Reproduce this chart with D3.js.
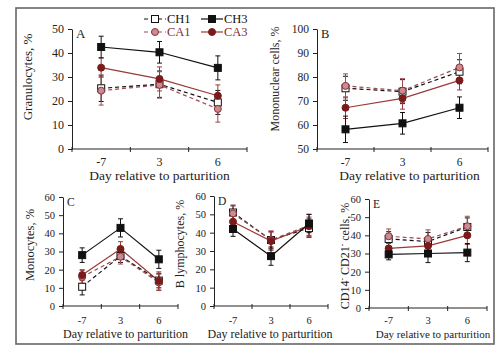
<!DOCTYPE html>
<html><head><meta charset="utf-8">
<script src="https://cdn.jsdelivr.net/npm/d3@7"></script>
<style>body{margin:0;background:#fff}svg{display:block}text{font-family:"Liberation Serif","Times New Roman",serif}</style>
</head><body>
<svg id="c" width="503" height="350"></svg>
<script>
const categories = ["-7","3","6"];
const seriesNames = ["CH1","CH3","CA1","CA3"];
const xTitle = "Day relative to parturition";

// Panel A: Granulocytes
const granMean = {CH1:[25.3,27.0,19.4], CH3:[42.5,40.3,33.8], CA1:[24.3,26.7,16.7], CA3:[33.9,29.2,22.2]};
const granSE   = {CH1:[5.5,5.5,5.0],   CH3:[4.5,4.5,5.0],   CA1:[6.0,5.5,5.5],   CA3:[4.0,5.0,4.5]};
// Panel B: Mononuclear cells
const monoMean = {CH1:[75.3,73.9,82.2], CH3:[58.2,60.7,67.2], CA1:[76.3,74.3,84.0], CA3:[67.2,71.1,78.6]};
const monoSE   = {CH1:[5.0,5.0,5.0],   CH3:[5.5,4.5,4.5],   CA1:[5.0,5.0,5.8],   CA3:[4.5,4.5,4.0]};
// Panel C: Monocytes
const mncyMean = {CH1:[10.6,27.5,14.0], CH3:[28.0,43.0,25.7], CA1:[16.0,27.1,13.0], CA3:[17.0,31.4,13.8]};
const mncySE   = {CH1:[4.5,3.5,4.0],   CH3:[4.0,5.0,5.0],   CA1:[3.5,4.0,4.5],   CA3:[3.0,4.0,5.0]};
// Panel D: B lymphocytes
const blymMean = {CH1:[51.0,36.0,42.5], CH3:[42.0,27.2,45.0], CA1:[50.5,36.0,44.0], CA3:[46.0,35.4,43.5]};
const blymSE   = {CH1:[4.0,4.5,5.0],   CH3:[4.0,5.0,5.0],   CA1:[4.0,5.0,6.0],   CA3:[4.0,5.0,5.0]};
// Panel E: CD14- CD21- cells
const cdMean = {CH1:[38.0,36.6,44.6], CH3:[29.5,30.0,30.5], CA1:[39.5,38.0,45.0], CA3:[32.8,34.2,40.0]};
const cdSE   = {CH1:[4.0,5.0,5.0],   CH3:[3.0,5.0,5.0],   CA1:[4.0,5.0,5.5],   CA3:[3.0,4.0,5.0]};

const yTicksTop = [0,10,20,30,40,50];
const yTicksB = [50,60,70,80,90,100];
const yTicksBottom = [0,10,20,30,40,50,60];

const FONT = "Liberation Serif";
const style = {
  CH1:{line:"#111", dash:"4,3", shape:"square", fill:"#fff", stroke:"#111", text:"#111"},
  CH3:{line:"#111", dash:null, shape:"square", fill:"#111", stroke:"#111", text:"#111"},
  CA1:{line:"#9a4a50", dash:"4,3", shape:"circle", fill:"#c98c92", stroke:"#8a3038", text:"#8b2630"},
  CA3:{line:"#9a3a38", dash:null, shape:"circle", fill:"#7a1a1a", stroke:"#7a1a1a", text:"#8b2630"}
};
const order = ["CH1","CA1","CA3","CH3"];

const svg = d3.select("#c");
svg.append("rect").attr("x",16).attr("y",8).attr("width",478).attr("height",336)
  .attr("fill","none").attr("stroke","#666").attr("stroke-width",1.6);

function panel(cfg){
  const g = svg.append("g");
  const x = d3.scaleBand().domain(categories).range(cfg.xr).paddingInner(0).paddingOuter(0);
  const y = d3.scaleLinear().domain(cfg.yd).range(cfg.yr);
  const ya = g.append("g").attr("transform",`translate(${cfg.xr[0]},0)`)
    .call(d3.axisLeft(y).tickValues(cfg.yt).tickSize(4).tickPadding(4).tickSizeOuter(0));
  ya.attr("font-family",FONT);
  ya.select(".domain").attr("stroke","#222");
  ya.selectAll(".tick line").attr("stroke","#222");
  ya.selectAll("text").attr("font-family",FONT).attr("font-size",cfg.fs).attr("fill","#222");
  // x axis with ticks at band boundaries
  const xa = g.append("g").attr("transform",`translate(0,${cfg.yr[0]})`);
  xa.append("line").attr("x1",cfg.xr[0]).attr("x2",cfg.xr[1]).attr("stroke","#222");
  const bounds = categories.map(c=>x(c)).concat([cfg.xr[1]]);
  xa.selectAll("line.t").data(bounds).join("line").attr("class","t")
    .attr("x1",d=>d).attr("x2",d=>d).attr("y1",-2).attr("y2",3).attr("stroke","#222");
  xa.selectAll("text.tl").data(categories).join("text").attr("class","tl")
    .attr("x",d=>x(d)+x.bandwidth()/2).attr("y",cfg.tly).attr("text-anchor","middle")
    .attr("font-family",FONT).attr("font-size",cfg.fs).attr("fill","#222").text(d=>d);
  g.append("text").attr("x",(cfg.xr[0]+cfg.xr[1])/2 + (cfg.tdx||0)).attr("y",cfg.tty)
    .attr("text-anchor","middle").attr("font-family",FONT).attr("font-size",cfg.tfs).attr("fill","#222").text(xTitle);
  const yt = g.append("text").attr("transform",`translate(${cfg.ylx},${cfg.yly}) rotate(-90)`)
    .attr("text-anchor","middle").attr("font-family",FONT).attr("font-size",cfg.ylfs).attr("fill","#222");
  if (cfg.ylParts){
    cfg.ylParts.forEach(p=>{
      const ts = yt.append("tspan").text(p.t);
      if(p.sup) ts.attr("baseline-shift","super").attr("font-size",cfg.ylfs*0.65);
    });
  } else yt.text(cfg.ylabel);
  g.append("text").attr("x",cfg.xr[0]+4).attr("y",cfg.yr[1]+9).attr("font-family",FONT)
    .attr("font-size",cfg.fs+1).attr("fill","#222").text(cfg.letter);

  const cx = c=>x(c)+x.bandwidth()/2;
  const cap = 2.5;
  order.forEach(s=>{
    const st = style[s];
    const m = cfg.mean[s], e = cfg.se[s];
    categories.forEach((c,i)=>{
      const eg = g.append("g").attr("stroke",st.line).attr("stroke-width",1);
      eg.append("line").attr("x1",cx(c)).attr("x2",cx(c)).attr("y1",y(m[i]-e[i])).attr("y2",y(m[i]+e[i]));
      eg.append("line").attr("x1",cx(c)-cap).attr("x2",cx(c)+cap).attr("y1",y(m[i]+e[i])).attr("y2",y(m[i]+e[i]));
      eg.append("line").attr("x1",cx(c)-cap).attr("x2",cx(c)+cap).attr("y1",y(m[i]-e[i])).attr("y2",y(m[i]-e[i]));
    });
    const line = d3.line().x((d,i)=>cx(categories[i])).y(d=>y(d));
    g.append("path").datum(m).attr("d",line).attr("fill","none").attr("stroke",st.line)
      .attr("stroke-width",1.2).attr("stroke-dasharray",st.dash);
  });
  order.forEach(s=>{
    const st = style[s];
    cfg.mean[s].forEach((v,i)=>{
      const px = cx(categories[i]), py = y(v);
      if (st.shape==="square")
        g.append("rect").attr("x",px-3.5).attr("y",py-3.5).attr("width",7).attr("height",7)
          .attr("fill",st.fill).attr("stroke",st.stroke).attr("stroke-width",1);
      else
        g.append("circle").attr("cx",px).attr("cy",py).attr("r",3.5)
          .attr("fill",st.fill).attr("stroke",st.stroke).attr("stroke-width",1);
    });
  });
}

panel({letter:"A", xr:[72,247], yr:[149,29], yd:[0,50], yt:yTicksTop, fs:12, tly:17, tty:180, tfs:13.5,
  ylabel:"Granulocytes, %", ylx:32, yly:77, ylfs:13, mean:granMean, se:granSE});
panel({letter:"B", xr:[317,488], yr:[149,29], yd:[50,100], yt:yTicksB, fs:11.5, tly:17, tty:180, tfs:13.5, tdx:7,
  ylabel:"Mononuclear cells, %", ylx:279, yly:79, ylfs:12, mean:monoMean, se:monoSE});
panel({letter:"C", xr:[63,178], yr:[306,197], yd:[0,60], yt:yTicksBottom, fs:10.5, tly:18, tty:338, tfs:12, tdx:5,
  ylabel:"Monocytes, %", ylx:34, yly:245, ylfs:12.5, mean:mncyMean, se:mncySE});
panel({letter:"D", xr:[214,328], yr:[306,196], yd:[0,60], yt:yTicksBottom, fs:10.5, tly:18, tty:338, tfs:12, tdx:-1,
  ylabel:"B lymphocytes, %", ylx:184, yly:244, ylfs:12, mean:blymMean, se:blymSE});
panel({letter:"E", xr:[369,487], yr:[308,199], yd:[0,60], yt:yTicksBottom, fs:10.5, tly:16, tty:338, tfs:11, tdx:5,
  ylParts:[{t:"CD14"},{t:"-",sup:true},{t:" CD21"},{t:"-",sup:true},{t:" cells, %"}], ylx:349, yly:256, ylfs:12, mean:cdMean, se:cdSE});

// legend
const legendRows = [["CH1","CH3"],["CA1","CA3"]];
const legX = [144,201], legY = [19,32];
legendRows.forEach((row,ri)=>row.forEach((s,ci)=>{
  const st = style[s];
  const x0 = legX[ci], yy = legY[ri];
  svg.append("line").attr("x1",x0).attr("x2",x0+22).attr("y1",yy).attr("y2",yy)
    .attr("stroke",st.line).attr("stroke-width",1.2).attr("stroke-dasharray",st.dash);
  if (st.shape==="square")
    svg.append("rect").attr("x",x0+11-3.5).attr("y",yy-3.5).attr("width",7).attr("height",7)
      .attr("fill",st.fill).attr("stroke",st.stroke);
  else
    svg.append("circle").attr("cx",x0+11).attr("cy",yy).attr("r",3.5).attr("fill",st.fill).attr("stroke",st.stroke);
  svg.append("text").attr("x",x0+23).attr("y",yy+4).attr("font-family",FONT).attr("font-size",12.5).attr("fill",st.text).text(s);
}));
</script>
</body></html>
